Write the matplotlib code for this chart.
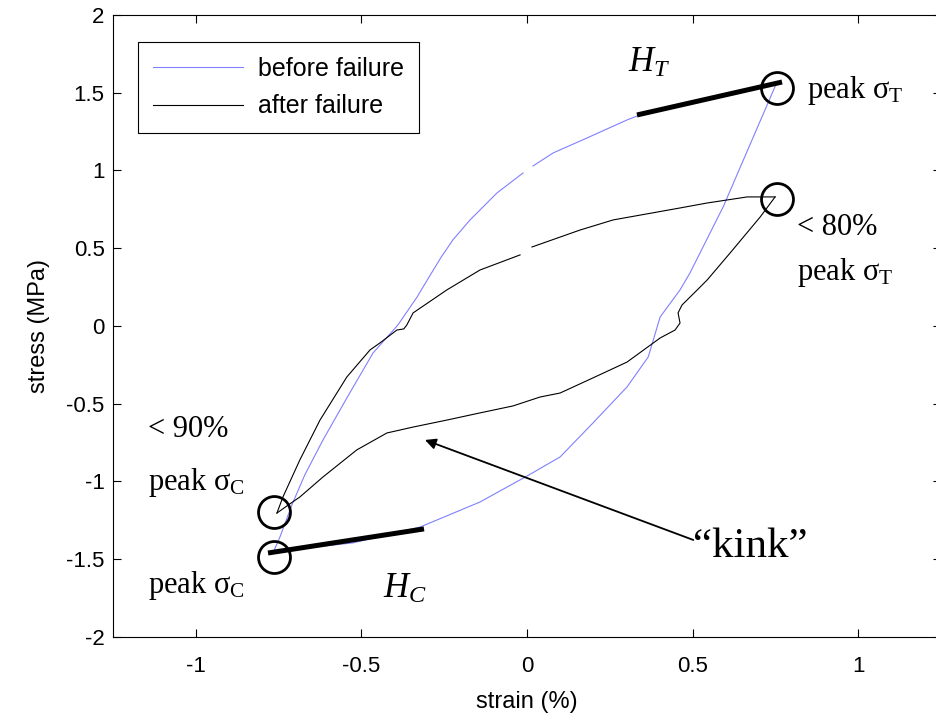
import numpy as np
import matplotlib
matplotlib.use("Agg")
import matplotlib.pyplot as plt

plt.rcParams.update({
    "font.family": "Liberation Sans",
    "mathtext.fontset": "custom",
    "mathtext.rm": "Liberation Serif",
    "mathtext.it": "Liberation Serif:italic",
})

BLUE = "#8080ff"
SERIF = "Liberation Serif"

# --- before failure: loading branch (compression tip -> tension tip), gap in the data
before_up_x = [-0.767, -0.746, -0.710, -0.671, -0.616, -0.544, -0.465, -0.390, -0.332,
               -0.300, -0.260, -0.224, -0.172, -0.091, -0.012, np.nan, 0.018, 0.079,
               0.181, 0.302, 0.332, 0.523, 0.755]
before_up_y = [-1.460, -1.357, -1.151, -0.958, -0.733, -0.463, -0.174, 0.006, 0.186,
               0.300, 0.440, 0.553, 0.682, 0.855, 0.984, np.nan, 1.029, 1.113,
               1.209, 1.325, 1.350, 1.453, 1.570]
# unloading branch (tension tip -> compression tip)
before_dn_x = [0.755, 0.592, 0.492, 0.462, 0.402, 0.366, 0.302, 0.199, 0.100, 0.0,
               -0.142, -0.323, -0.526, -0.725, -0.767]
before_dn_y = [1.570, 0.765, 0.341, 0.232, 0.058, -0.199, -0.392, -0.624, -0.842, -0.965,
               -1.132, -1.293, -1.395, -1.441, -1.460]

# --- after failure
after_up_x = [-0.755, -0.737, -0.686, -0.625, -0.544, -0.474, -0.444, -0.393, -0.372,
              -0.363, -0.344, -0.242, -0.142, -0.021, np.nan, 0.015, 0.160, 0.260,
              0.462, 0.544, 0.665, 0.749]
after_up_y = [-1.203, -1.100, -0.862, -0.605, -0.328, -0.154, -0.109, -0.026, -0.019,
              0.006, 0.084, 0.232, 0.360, 0.457, np.nan, 0.508, 0.617, 0.682,
              0.759, 0.791, 0.830, 0.830]
after_dn_x = [0.749, 0.704, 0.613, 0.544, 0.514, 0.468, 0.456, 0.462, 0.447, 0.402,
              0.302, 0.199, 0.100, 0.039, -0.042, -0.142, -0.242, -0.344, -0.423,
              -0.514, -0.616, -0.686, -0.720, -0.755]
after_dn_y = [0.830, 0.701, 0.469, 0.296, 0.232, 0.135, 0.084, 0.019, -0.026, -0.077,
              -0.232, -0.334, -0.431, -0.457, -0.514, -0.559, -0.605, -0.650, -0.688,
              -0.797, -0.971, -1.100, -1.150, -1.203]

# annotation markers (peaks) and hardening slopes
peak_x = [0.755, 0.755, -0.764, -0.764]
peak_y = [1.53, 0.817, -1.196, -1.486]
ht_x, ht_y = [0.332, 0.770], [1.357, 1.569]
hc_x, hc_y = [-0.782, -0.311], [-1.460, -1.305]

fig = plt.figure(figsize=(9.37, 7.17), dpi=100)
ax = fig.add_axes([0.1206, 0.1116, 0.8837, 0.8675])

ax.plot(before_up_x, before_up_y, color=BLUE, lw=0.8, label="before failure")
ax.plot(before_dn_x, before_dn_y, color=BLUE, lw=0.8)
ax.plot(after_up_x, after_up_y, color="black", lw=0.8, label="after failure")
ax.plot(after_dn_x, after_dn_y, color="black", lw=0.8)

ax.plot(ht_x, ht_y, color="black", lw=3.6, solid_capstyle="butt")
ax.plot(hc_x, hc_y, color="black", lw=3.6, solid_capstyle="butt")
ax.plot(peak_x, peak_y, ls="none", marker="o", ms=23, mfc="none", mec="black", mew=2.0)

ax.set_xlim(-1.25, 1.25)
ax.set_ylim(-2, 2)
ax.set_xticks([-1, -0.5, 0, 0.5, 1])
ax.set_xticklabels(["-1", "-0.5", "0", "0.5", "1"])
ax.set_yticks([-2, -1.5, -1, -0.5, 0, 0.5, 1, 1.5, 2])
ax.set_yticklabels(["-2", "-1.5", "-1", "-0.5", "0", "0.5", "1", "1.5", "2"])
ax.tick_params(direction="in", top=True, right=True, length=6, width=0.8,
               labelsize=16)
ax.tick_params(axis="x", pad=14)
ax.tick_params(axis="y", pad=6)
for sp in ax.spines.values():
    sp.set_linewidth(0.8)
ax.set_xlabel("strain (%)", fontsize=17, labelpad=10)
ax.set_ylabel("stress (MPa)", fontsize=17, labelpad=12)

leg = ax.legend(loc="upper left", bbox_to_anchor=(0.030, 0.957), borderaxespad=0,
                fontsize=18, fancybox=False, edgecolor="black", framealpha=1,
                handlelength=3.6, borderpad=0.6, labelspacing=0.55, handletextpad=0.6)
leg.get_frame().set_linewidth(0.8)

ts = dict(family=SERIF, color="black", va="baseline", ha="left")
ax.text(0.305, 1.633, r"$H_T$", fontsize=25, **ts)
ax.text(0.846, 1.466, r"peak $\mathrm{\sigma_T}$", fontsize=22, **ts)
ax.text(0.816, 0.585, "< 80%", fontsize=22, **ts)
ax.text(0.816, 0.296, r"peak $\mathrm{\sigma_T}$", fontsize=22, **ts)
ax.text(-1.145, -0.714, "< 90%", fontsize=22, **ts)
ax.text(-1.145, -1.055, r"peak $\mathrm{\sigma_C}$", fontsize=22, **ts)
ax.text(-1.145, -1.717, r"peak $\mathrm{\sigma_C}$", fontsize=22, **ts)
ax.text(-0.435, -1.749, r"$H_C$", fontsize=25, **ts)

ax.annotate("", xy=(-0.308, -0.733), xytext=(0.502, -1.376),
            arrowprops=dict(arrowstyle="-|>", color="black", lw=1.3,
                            mutation_scale=16, shrinkA=0, shrinkB=0))
ax.text(0.500, -1.486, "\u201ckink\u201d", fontsize=31, **ts)

fig.savefig("out.png", dpi=100)
